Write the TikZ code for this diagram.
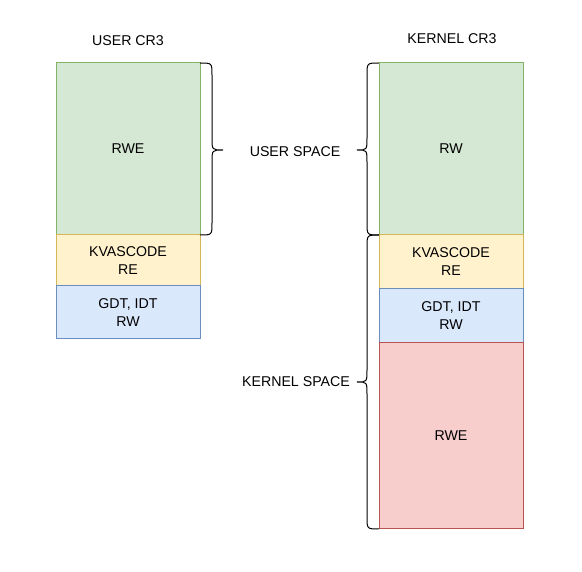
\documentclass[tikz,border=0pt]{standalone}
\usepackage{fontspec}
\setmainfont{Liberation Sans}
\definecolor{gfill}{HTML}{D5E8D4}\definecolor{gdraw}{HTML}{82B366}
\definecolor{yfill}{HTML}{FFF2CC}\definecolor{ydraw}{HTML}{D6B656}
\definecolor{bfill}{HTML}{DAE8FC}\definecolor{bdraw}{HTML}{6C8EBF}
\definecolor{rfill}{HTML}{F8CECC}\definecolor{rdraw}{HTML}{B85450}
\begin{document}
\begin{tikzpicture}[x=1pt,y=-1pt,
  txt/.style={font=\fontsize{14.2}{18}\selectfont, align=center, text=black},
  box/.style={txt, rectangle, line width=1pt, minimum width=144pt, inner sep=0pt, outer sep=0pt},
  green/.style={box, fill=gfill, draw=gdraw},
  yellow/.style={box, fill=yfill, draw=ydraw},
  blue/.style={box, fill=bfill, draw=bdraw},
  red/.style={box, fill=rfill, draw=rdraw},
  bracestyle/.style={draw=black, line width=1pt}]
\useasboundingbox (0,0) rectangle (582,572);
% left column
\node[green, minimum height=172pt] (ug) at (128,149) {RWE};
\node[yellow, minimum height=51pt] (uy) at (128,260.5) {KVASCODE\\RE};
\node[blue, minimum height=53pt] (ub) at (128,312.5) {GDT, IDT\\RW};
% right column
\node[green, minimum height=172pt] (kg) at (451,149) {RW};
\node[yellow, minimum height=54pt] (ky) at (451,262) {KVASCODE\\RE};
\node[blue, minimum height=54pt] (kb) at (451,316) {GDT, IDT\\RW};
\node[red, minimum height=186pt] (kr) at (451,436) {RWE};
% titles
\node[txt] (ut) at (128,41) {USER CR3};
\node[txt] (kt) at (452,39) {KERNEL CR3};
\node[txt] (us) at (295,152) {USER SPACE};
\node[txt] (ks) at (296,382) {KERNEL SPACE};
% braces
\draw[bracestyle] (ug.north east) .. controls (212,63) .. (212,75) -- (212,138)
  .. controls (212,150) .. (223,150) .. controls (212,150) .. (212,162)
  -- (212,223) .. controls (212,235) .. (ug.south east);
\draw[bracestyle] (kg.north west) .. controls (367,63) .. (367,75) -- (367,138)
  .. controls (367,150) .. (357,150) .. controls (367,150) .. (367,162)
  -- (367,223) .. controls (367,235) .. (kg.south west);
\draw[bracestyle] (ky.north west) .. controls (367,235) .. (367,247) -- (367,370)
  .. controls (367,382) .. (357,382) .. controls (367,382) .. (367,394)
  -- (367,517) .. controls (367,529) .. (kr.south west);
\end{tikzpicture}
\end{document}
